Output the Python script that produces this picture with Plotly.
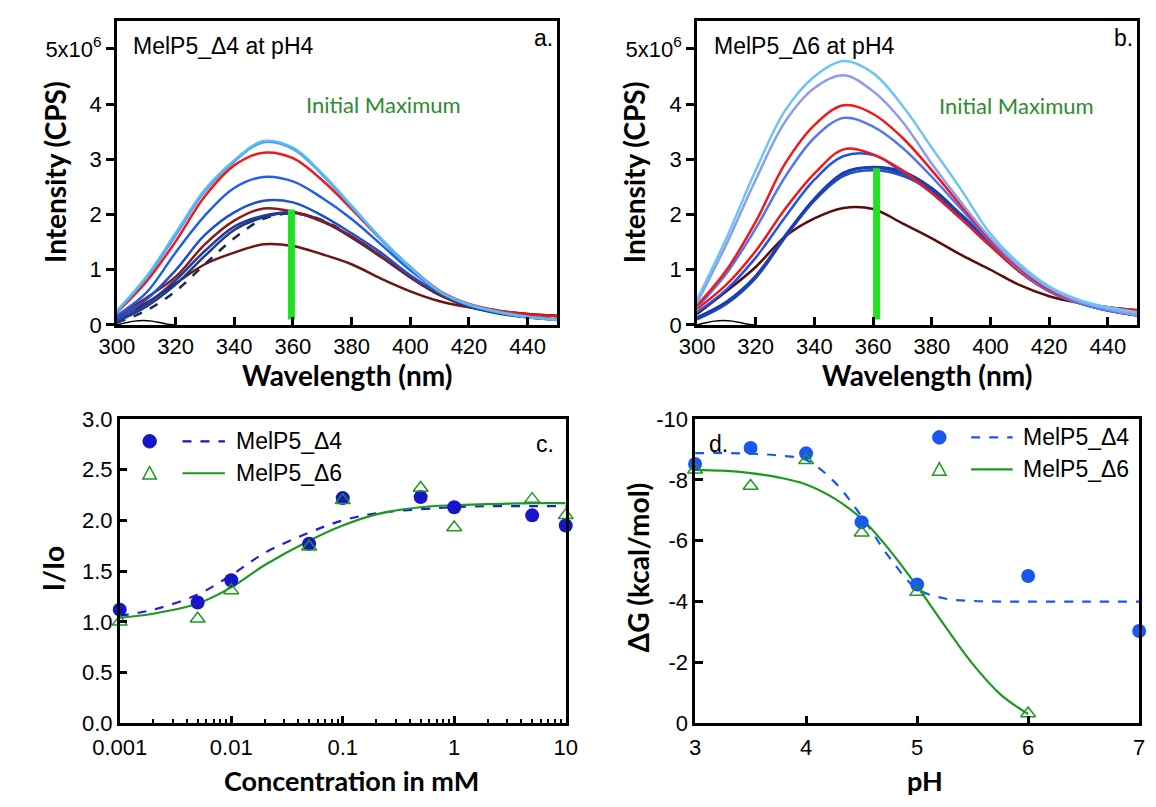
import plotly.graph_objects as go

W, H = 1156, 807

# ---------------- emission spectra (intensity in units of 1e6 CPS) ----------------
wavelength = [300, 310, 320, 330, 340, 350, 360, 370, 380, 390, 400, 410, 420, 430, 440, 450]

# MelP5_Δ4 at pH4
a_sky = [0.26, 0.87, 1.66, 2.45, 2.98, 3.33, 3.21, 2.74, 2.16, 1.57, 1.05, 0.61, 0.37, 0.24, 0.15, 0.10]
a_periwinkle = [0.24, 0.84, 1.62, 2.42, 2.96, 3.31, 3.19, 2.72, 2.14, 1.55, 1.03, 0.60, 0.36, 0.23, 0.14, 0.09]
a_red = [0.23, 0.78, 1.51, 2.33, 2.89, 3.12, 3.02, 2.62, 2.10, 1.55, 1.05, 0.62, 0.38, 0.26, 0.19, 0.16]
a_blue1 = [0.17, 0.58, 1.31, 1.98, 2.48, 2.68, 2.60, 2.30, 1.92, 1.46, 0.99, 0.61, 0.37, 0.23, 0.14, 0.10]
a_blue2 = [0.11, 0.46, 0.99, 1.63, 2.04, 2.25, 2.22, 1.98, 1.66, 1.31, 0.90, 0.58, 0.35, 0.22, 0.14, 0.10]
a_darkred = [0.17, 0.49, 0.87, 1.46, 1.89, 2.11, 2.05, 1.87, 1.60, 1.25, 0.87, 0.55, 0.35, 0.26, 0.20, 0.17]
a_navy1 = [0.08, 0.37, 0.81, 1.34, 1.78, 1.98, 2.04, 1.89, 1.60, 1.25, 0.87, 0.55, 0.34, 0.22, 0.14, 0.10]
a_navy2 = [0.06, 0.33, 0.73, 1.25, 1.72, 1.95, 2.03, 1.88, 1.58, 1.23, 0.86, 0.54, 0.33, 0.21, 0.14, 0.10]
a_navy_dash = [0.04, 0.26, 0.61, 1.10, 1.57, 1.92, 2.02, 1.90, 1.60, 1.25, 0.87, 0.55, 0.34, 0.22, 0.14, 0.10]
a_maroon = [0.14, 0.40, 0.75, 1.10, 1.31, 1.46, 1.43, 1.28, 1.10, 0.84, 0.61, 0.43, 0.32, 0.25, 0.20, 0.16]

# MelP5_Δ6 at pH4
b_sky = [0.46, 1.57, 2.80, 3.88, 4.50, 4.78, 4.56, 3.97, 3.21, 2.45, 1.65, 1.10, 0.70, 0.46, 0.32, 0.23]
b_lavender = [0.40, 1.46, 2.63, 3.68, 4.29, 4.52, 4.23, 3.68, 2.92, 2.22, 1.57, 1.05, 0.67, 0.43, 0.29, 0.18]
b_red1 = [0.35, 0.99, 1.87, 2.92, 3.62, 3.98, 3.82, 3.39, 2.80, 2.16, 1.54, 1.02, 0.64, 0.43, 0.32, 0.27]
b_midblue = [0.32, 0.93, 1.75, 2.68, 3.39, 3.75, 3.59, 3.21, 2.68, 2.10, 1.51, 0.99, 0.61, 0.40, 0.26, 0.17]
b_red2 = [0.29, 0.73, 1.34, 2.10, 2.74, 3.18, 3.09, 2.80, 2.39, 1.92, 1.43, 0.96, 0.61, 0.40, 0.32, 0.26]
b_blue = [0.23, 0.64, 1.22, 1.95, 2.63, 3.06, 3.08, 2.77, 2.39, 1.92, 1.43, 0.96, 0.61, 0.40, 0.27, 0.18]
b_navy1 = [0.12, 0.40, 0.87, 1.60, 2.27, 2.74, 2.85, 2.74, 2.45, 1.98, 1.49, 1.02, 0.64, 0.40, 0.26, 0.17]
b_navy2 = [0.10, 0.38, 0.85, 1.58, 2.25, 2.70, 2.80, 2.70, 2.42, 1.96, 1.47, 1.00, 0.63, 0.40, 0.26, 0.17]
b_navy3 = [0.14, 0.42, 0.89, 1.62, 2.29, 2.76, 2.86, 2.78, 2.48, 2.00, 1.50, 1.02, 0.64, 0.41, 0.27, 0.18]
b_maroon = [0.20, 0.61, 1.05, 1.60, 1.93, 2.12, 2.10, 1.84, 1.57, 1.27, 1.00, 0.72, 0.52, 0.40, 0.32, 0.26]

# buffer blank (small scatter bump near the excitation edge)
blank_wl = [300, 303, 306, 309, 312, 315, 318, 320]
blank_int = [0.0, 0.04, 0.07, 0.08, 0.07, 0.04, 0.01, 0.0]

# wavelength / extent of the initial maximum marker
init_max_a = (359.5, 0.10, 2.09)
init_max_b = (361.2, 0.10, 2.84)

# ---------------- binding curves ----------------
conc_mM = [0.001, 0.005, 0.01, 0.05, 0.1, 0.5, 1, 5, 10]
ratio_d4 = [1.12, 1.19, 1.41, 1.77, 2.22, 2.23, 2.13, 2.05, 1.95]
ratio_d6 = [1.00, 1.03, 1.31, 1.74, 2.20, 2.32, 1.93, 2.21, 2.05]
fit_conc = [0.001, 0.002, 0.005, 0.01, 0.02, 0.05, 0.1, 0.2, 0.5, 1, 2, 5, 10]
fit_ratio_d4 = [1.06, 1.12, 1.27, 1.46, 1.68, 1.88, 2.00, 2.07, 2.11, 2.13, 2.14, 2.14, 2.14]
fit_ratio_d6 = [1.04, 1.08, 1.18, 1.34, 1.56, 1.80, 1.95, 2.06, 2.13, 2.15, 2.16, 2.17, 2.17]

# ---------------- free energy vs pH ----------------
ph_d4 = [3, 3.5, 4, 4.5, 5, 6, 7]
dg_d4 = [-8.52, -9.05, -8.87, -6.61, -4.56, -4.84, -3.03]
ph_d6 = [3, 3.5, 4, 4.5, 5, 6]
dg_d6 = [-8.33, -7.80, -8.64, -6.26, -4.31, -0.32]
fit_ph_d4 = [3, 3.25, 3.5, 3.75, 4, 4.25, 4.5, 4.75, 5, 5.25, 5.5, 5.75, 6, 6.5, 7]
fit_dg_d4 = [-8.88, -8.88, -8.86, -8.80, -8.65, -7.95, -6.80, -5.45, -4.42, -4.10, -4.02, -4.00, -4.00, -4.00, -4.00]
fit_ph_d6 = [3, 3.25, 3.5, 3.75, 4, 4.25, 4.5, 4.75, 5, 5.25, 5.5, 5.75, 6]
fit_dg_d6 = [-8.33, -8.30, -8.22, -8.08, -7.85, -7.40, -6.72, -5.70, -4.50, -3.20, -1.95, -0.95, -0.30]

dg_ticks = [0, -2, -4, -6, -8, -10]

TICK_FONT = "Liberation Sans, Arial, sans-serif"
TITLE_FONT = "Lato, Open Sans, sans-serif"
TICK_SIZE = 22
TITLE_SIZE = 28
BLUE_C = "#1616c8"
BLUE_D = "#1a56f0"
GREEN = "#1c9a1c"
LIME = "#22e022"

fig = go.Figure()


def spectrum(x, y, color, axis, dash="solid", width=2.5):
    fig.add_trace(go.Scatter(x=x, y=y, mode="lines", xaxis="x" + axis, yaxis="y" + axis,
                             line=dict(color=color, width=width, dash=dash, shape="spline"),
                             showlegend=False, hoverinfo="skip"))


# panel a
for vals, col, dash in [
    (a_maroon, "#6e1414", "solid"),
    (a_navy_dash, "#1c2a50", "dash"),
    (a_navy2, "#233a80", "solid"),
    (a_navy1, "#1d3c9c", "solid"),
    (a_darkred, "#8b1a1a", "solid"),
    (a_blue2, "#1f4fd0", "solid"),
    (a_blue1, "#2060e8", "solid"),
    (a_red, "#f01818", "solid"),
    (a_periwinkle, "#5a8ef0", "solid"),
    (a_sky, "#55bff0", "solid"),
]:
    spectrum(wavelength, vals, col, "", dash)
spectrum(blank_wl, blank_int, "black", "", width=1.5)

# panel b
for vals, col in [
    (b_maroon, "#5c0a0a"),
    (b_navy3, "#173a9e"),
    (b_navy2, "#2050c8"),
    (b_navy1, "#1c3fb5"),
    (b_blue, "#1f55e6"),
    (b_red2, "#f01818"),
    (b_midblue, "#5577ee"),
    (b_red1, "#f01818"),
    (b_lavender, "#8c9cf0"),
    (b_sky, "#6cc6f2"),
]:
    spectrum(wavelength, vals, col, "2")
spectrum(blank_wl, blank_int, "black", "2", width=1.5)

# initial maximum markers
for (wl, lo, hi), ax in [(init_max_a, ""), (init_max_b, "2")]:
    fig.add_trace(go.Scatter(x=[wl, wl], y=[lo, hi], mode="lines", xaxis="x" + ax, yaxis="y" + ax,
                             line=dict(color=LIME, width=7), showlegend=False, hoverinfo="skip"))

# panel c
fig.add_trace(go.Scatter(x=fit_conc, y=fit_ratio_d4, mode="lines", xaxis="x3", yaxis="y3",
                         line=dict(color="#2020d0", width=2.2, dash="dash", shape="spline"), showlegend=False))
fig.add_trace(go.Scatter(x=fit_conc, y=fit_ratio_d6, mode="lines", xaxis="x3", yaxis="y3",
                         line=dict(color=GREEN, width=2.2, shape="spline"), showlegend=False))
fig.add_trace(go.Scatter(x=conc_mM, y=ratio_d4, mode="markers", xaxis="x3", yaxis="y3", cliponaxis=False,
                         marker=dict(symbol="circle", size=14, color=BLUE_C), showlegend=False))
fig.add_trace(go.Scatter(x=conc_mM, y=ratio_d6, mode="markers", xaxis="x3", yaxis="y3", cliponaxis=False,
                         marker=dict(symbol="triangle-up-open", size=13, color=GREEN, line=dict(width=1.5)),
                         showlegend=False))

# panel d
fig.add_trace(go.Scatter(x=fit_ph_d4, y=fit_dg_d4, mode="lines", xaxis="x4", yaxis="y4",
                         line=dict(color=BLUE_D, width=2.2, dash="dash", shape="spline"), showlegend=False))
fig.add_trace(go.Scatter(x=fit_ph_d6, y=fit_dg_d6, mode="lines", xaxis="x4", yaxis="y4",
                         line=dict(color=GREEN, width=2.2, shape="spline"), showlegend=False))
fig.add_trace(go.Scatter(x=ph_d4, y=dg_d4, mode="markers", xaxis="x4", yaxis="y4", cliponaxis=False,
                         marker=dict(symbol="circle", size=14, color=BLUE_D), showlegend=False))
fig.add_trace(go.Scatter(x=ph_d6, y=dg_d6, mode="markers", xaxis="x4", yaxis="y4", cliponaxis=False,
                         marker=dict(symbol="triangle-up-open", size=13, color=GREEN, line=dict(width=1.5)),
                         showlegend=False))


def px(x):
    return x / W


def py(y):
    return 1 - y / H


def axis_style(**kw):
    base = dict(showline=True, linecolor="black", linewidth=2.5, mirror=True,
                ticks="inside", ticklen=8, tickwidth=2.5, tickcolor="black",
                showgrid=False, zeroline=False,
                tickfont=dict(family=TICK_FONT, size=TICK_SIZE, color="black"))
    base.update(kw)
    return base


spec_y_ticks = dict(tickvals=[0, 1, 2, 3, 4, 5], ticktext=["0", "1", "2", "3", "4", "5x10<sup>6</sup>"])
wl_ticks = dict(tickvals=list(range(300, 441, 20)))

fig.update_layout(
    width=W, height=H, margin=dict(l=0, r=0, t=0, b=0),
    paper_bgcolor="white", plot_bgcolor="white", showlegend=False,
    xaxis=axis_style(domain=[px(92), px(548)], range=[300, 450], anchor="y", **wl_ticks),
    yaxis=axis_style(domain=[py(323), py(9.5)], range=[0, 5.5], anchor="x", ticks="outside", **spec_y_ticks),
    xaxis2=axis_style(domain=[px(693), px(1149)], range=[300, 450], anchor="y2", **wl_ticks),
    yaxis2=axis_style(domain=[py(323), py(9.5)], range=[0, 5.5], anchor="x2", ticks="outside", **spec_y_ticks),
    xaxis3=axis_style(domain=[px(95), px(557)], type="log", range=[-3, 1], anchor="y3",
                      tickvals=[0.001, 0.01, 0.1, 1, 10], ticktext=["0.001", "0.01", "0.1", "1", "10"],
                      ticklabelstandoff=3,
                      minor=dict(ticks="inside", ticklen=5, tickwidth=2, tickcolor="black", dtick="D1")),
    yaxis3=axis_style(domain=[py(734), py(420)], range=[0, 3], anchor="x3", dtick=0.5, tickformat=".1f"),
    xaxis4=axis_style(domain=[px(691), px(1151)], range=[3, 7], anchor="y4", dtick=1, ticklabelstandoff=3),
    yaxis4=axis_style(domain=[py(734), py(420)], range=[0, -10], anchor="x4",
                      tickvals=dg_ticks, ticktext=[str(v) for v in dg_ticks]),
)

ann = []


def text(x, y, s, size=22, family=TICK_FONT, color="black", bold=False, angle=0, xanchor="center"):
    if bold:
        s = "<b>" + s + "</b>"
    ann.append(dict(x=px(x), y=py(y), xref="paper", yref="paper", text=s, showarrow=False,
                    font=dict(family=family, size=size, color=color), textangle=angle,
                    xanchor=xanchor, yanchor="middle", borderpad=0))


# axis titles
text(28, 166, "Intensity (CPS)", TITLE_SIZE, TITLE_FONT, bold=True, angle=-90)
text(330, 375, "Wavelength (nm)", TITLE_SIZE, TITLE_FONT, bold=True)
text(628, 166, "Intensity (CPS)", TITLE_SIZE, TITLE_FONT, bold=True, angle=-90)
text(931, 375, "Wavelength (nm)", TITLE_SIZE, TITLE_FONT, bold=True)
text(26, 575, "I/Io", TITLE_SIZE, TITLE_FONT, bold=True, angle=-90)
text(335, 793, "Concentration in mM", 27, TITLE_FONT, bold=True)
text(632, 573, "ΔG (kcal/mol)", TITLE_SIZE, TITLE_FONT, bold=True, angle=-90)
text(929, 793, "pH", 27, TITLE_FONT, bold=True)

# panel labels and in-plot notes
text(108, 35, "MelP5_Δ4 at pH4", 23, xanchor="left")
text(710, 35, "MelP5_Δ6 at pH4", 23, xanchor="left")
text(545, 27, "a.", 23, xanchor="right")
text(1146, 27, "b.", 23, xanchor="right")
text(546, 446, "c.", 23, xanchor="right")
text(704, 446, "d.", 23, xanchor="left")
text(368, 95, "Initial Maximum", 22, TITLE_FONT, color="#2e8b2e")
text(1024, 97, "Initial Maximum", 22, TITLE_FONT, color="#2e8b2e")

# hand-built legends for panels c and d
shapes = []


def legend_row(cx, cy, x0, x1, tx, label, color, dash, marker):
    r = 7
    if marker == "circle":
        shapes.append(dict(type="circle", xref="paper", yref="paper",
                           x0=px(cx - r), x1=px(cx + r), y0=py(cy + r), y1=py(cy - r),
                           fillcolor=color, line=dict(color=color, width=1)))
    else:
        path = "M {} {} L {} {} L {} {} Z".format(px(cx - 7), py(cy + 6), px(cx + 7), py(cy + 6),
                                                  px(cx), py(cy - 7))
        shapes.append(dict(type="path", xref="paper", yref="paper", path=path,
                           line=dict(color=color, width=1.5)))
    shapes.append(dict(type="line", xref="paper", yref="paper", x0=px(x0), x1=px(x1), y0=py(cy), y1=py(cy),
                       line=dict(color=color, width=2.2, dash=dash)))
    text(tx, cy, label, 23, xanchor="left")


legend_row(126, 443, 160, 204, 214, "MelP5_Δ4", BLUE_C, "dash", "circle")
legend_row(126, 476, 160, 204, 214, "MelP5_Δ6", GREEN, "solid", "triangle")
legend_row(944, 439, 977, 1020, 1030, "MelP5_Δ4", BLUE_D, "dash", "circle")
legend_row(944, 472, 977, 1020, 1030, "MelP5_Δ6", GREEN, "solid", "triangle")

fig.update_layout(annotations=ann, shapes=shapes)
fig.write_html("out.html")
